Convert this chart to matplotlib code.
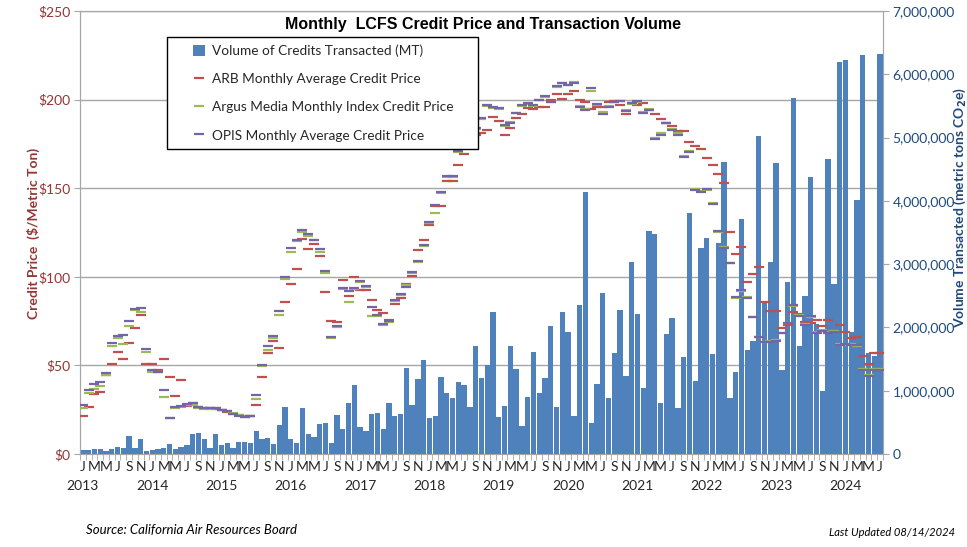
import numpy as np
import matplotlib
matplotlib.use("Agg")
import matplotlib.pyplot as plt
from matplotlib.patches import Patch, Rectangle
from matplotlib.lines import Line2D
from matplotlib.ticker import FuncFormatter, FixedLocator

# Month labels shown under the axis (every other month) and year captions
month_letters = ["J", "M", "M", "J", "S", "N"]
years = [2013, 2014, 2015, 2016, 2017, 2018, 2019, 2020, 2021, 2022, 2023, 2024]

# Volume of credits transacted, millions of MT, Jan 2013 .. Jul 2024
volume_m = [
    0.063, 0.07, 0.085, 0.075, 0.05, 0.08, 0.11, 0.10, 0.28, 0.10, 0.24, 0.04,
    0.07, 0.08, 0.10, 0.16, 0.08, 0.11, 0.14, 0.32, 0.33, 0.24, 0.10, 0.32,
    0.15, 0.18, 0.10, 0.19, 0.19, 0.18, 0.36, 0.23, 0.25, 0.16, 0.46, 0.75,
    0.24, 0.17, 0.72, 0.31, 0.27, 0.47, 0.49, 0.17, 0.62, 0.39, 0.81, 1.09,
    0.42, 0.36, 0.63, 0.65, 0.39, 0.80, 0.60, 0.63, 1.36, 0.78, 1.18, 1.49,
    0.57, 0.60, 1.22, 0.96, 0.88, 1.13, 1.09, 0.75, 1.71, 1.20, 1.40, 2.24,
    0.58, 0.76, 1.70, 1.34, 0.44, 0.90, 1.61, 0.96, 1.20, 2.03, 0.74, 2.25,
    1.93, 0.60, 2.35, 4.14, 0.49, 1.10, 2.54, 0.89, 1.59, 2.27, 1.24, 3.03,
    2.21, 1.04, 3.52, 3.47, 0.81, 1.90, 2.15, 0.73, 1.54, 3.81, 1.15, 3.25,
    3.42, 1.58, 3.33, 4.62, 0.89, 1.29, 3.71, 1.64, 1.78, 5.03, 2.40, 3.03,
    4.59, 1.32, 2.72, 5.63, 1.71, 2.50, 4.38, 2.05, 1.00, 4.66, 2.69, 6.19,
    6.22, 1.93, 4.02, 6.30, 1.60, 1.55, 6.32,
]

# Monthly credit prices ($/MT)
arb_price = [
    21.4, 26.6, 33.8, 34.8, 44.6, 51.0, 57.8, 53.8, 62.8, 70.9, 78.5, 50.8,
    51.0, 47.4, 53.8, 43.6, 32.6, 41.6, 27.2, 28.6, 26.5, 25.8, 25.8, 25.6,
    24.6, 23.6, 22.4, 21.8, 21.1, 21.2, 27.5, 43.6, 56.8, 63.6, 60.0, 85.8,
    95.7, 104.6, 121.5, 115.7, 118.5, 111.7, 91.6, 75.0, 74.7, 98.2, 89.2, 100.0,
    92.6, 92.6, 87.0, 81.3, 79.8, 75.6, 84.6, 88.0, 95.9, 100.6, 115.0, 121.0,
    129.0, 140.0, 140.0, 154.0, 154.0, 163.0, 169.0, 178.7, 180.0, 181.0, 183.0, 190.0,
    188.0, 180.0, 184.0, 189.6, 191.9, 195.0, 194.7, 195.6, 196.0, 200.0, 203.3, 200.5,
    203.3, 205.0, 200.0, 198.6, 194.7, 195.6, 196.0, 198.8, 199.4, 197.0, 191.9, 197.9,
    197.0, 197.9, 194.0, 191.9, 189.0, 187.0, 185.0, 182.5, 182.0, 176.0, 174.0, 172.0,
    167.0, 163.0, 158.0, 152.7, 125.0, 112.7, 117.0, 96.9, 101.6, 105.7, 85.6, 80.7,
    80.7, 71.0, 72.8, 80.3, 79.0, 74.7, 74.0, 75.6, 72.2, 75.6, 69.4, 72.8,
    69.0, 65.7, 66.2, 55.3, 50.6, 56.8, 56.8,
]

argus_price = [
    26.1, 34.6, 36.9, 38.5, 44.8, 61.0, 65.7, 62.1, 72.2, 81.3, 80.3, 57.4,
    46.3, 46.0, 32.4, 20.5, 26.0, 26.8, 27.6, 27.8, 26.0, 25.6, 25.6, 25.7,
    25.0, 24.5, 23.4, 22.0, 21.4, 21.6, 30.8, 49.7, 58.7, 65.3, 78.6, 98.6,
    114.2, 120.0, 125.0, 123.2, 120.5, 114.2, 101.9, 65.3, 71.5, 93.0, 85.6, 93.0,
    97.3, 94.5, 77.9, 78.0, 72.8, 74.4, 86.4, 89.8, 95.2, 102.4, 108.5, 117.5,
    130.2, 135.8, 147.5, 156.5, 156.5, 170.5, 174.5, 185.0, 183.3, 188.8, 196.5, 195.5,
    194.7, 185.2, 187.4, 192.2, 196.4, 197.6, 196.6, 199.6, 201.5, 198.9, 207.0, 209.3,
    208.0, 209.8, 196.5, 194.5, 205.0, 197.0, 193.0, 196.3, 198.5, 199.0, 194.0, 197.5,
    198.5, 192.8, 194.5, 178.5, 181.0, 186.5, 183.5, 181.0, 168.0, 171.0, 149.5, 148.5,
    149.0, 141.5, 125.0, 117.0, 108.0, 88.0, 92.0, 88.5, 77.5, 66.2, 63.0, 63.6,
    64.2, 68.0, 74.2, 83.5, 78.5, 73.3, 77.5, 69.0, 69.9, 68.8, 69.4, 62.0,
    61.5, 61.9, 61.2, 47.8, 44.6, 47.8, 47.8,
]

opis_price = [
    27.7, 36.1, 39.5, 40.8, 45.9, 62.5, 66.8, 67.2, 75.2, 82.0, 82.6, 59.0,
    47.2, 46.5, 36.1, 20.1, 26.5, 27.0, 28.2, 28.8, 26.3, 25.8, 25.8, 25.9,
    24.9, 24.2, 22.5, 21.6, 21.1, 21.3, 33.3, 50.2, 61.0, 66.6, 80.5, 99.7,
    116.0, 120.8, 126.4, 124.0, 120.8, 115.5, 103.5, 66.2, 72.0, 93.5, 92.0, 93.5,
    97.8, 95.0, 83.0, 78.4, 73.2, 74.9, 86.9, 90.3, 94.0, 102.9, 109.0, 118.0,
    130.7, 140.5, 148.0, 157.0, 157.0, 171.0, 175.0, 185.7, 183.8, 189.4, 197.0, 196.0,
    195.0, 185.6, 187.0, 192.6, 196.8, 198.0, 197.0, 200.0, 201.9, 198.4, 207.4, 209.6,
    208.4, 209.5, 195.8, 194.0, 206.6, 197.5, 191.7, 196.0, 198.8, 199.2, 193.6, 198.0,
    199.0, 192.2, 194.0, 178.0, 180.0, 187.0, 183.0, 180.0, 167.8, 170.5, 149.0, 148.0,
    149.4, 141.0, 125.8, 116.4, 107.6, 88.4, 92.5, 87.8, 77.1, 65.8, 63.4, 63.2,
    63.8, 68.5, 73.7, 84.0, 77.9, 72.8, 77.9, 68.5, 69.4, 68.5, 69.0, 61.5,
    61.9, 61.5, 61.5, 47.4, 44.2, 47.4, 47.4,
]

BAR_BLUE = "#4F81BD"
ARB_RED = "#C0504D"
ARGUS_GREEN = "#9BBB59"
OPIS_PURPLE = "#7464A8"
PRICE_COLOR = "#943634"
VOLUME_COLOR = "#1F497D"
GRID_GRAY = "#A6A6A6"
TEXT_DARK = "#262626"
FONT = "Lato"

plt.rcParams["font.family"] = [FONT, "DejaVu Sans"]

n_months = len(volume_m)
x = np.arange(n_months)
volume = np.array(volume_m) * 1e6

fig = plt.figure(figsize=(9.67, 5.47), dpi=100)
ax = fig.add_axes([0.0827, 0.170, 0.8304, 0.810])
ax_vol = ax.twinx()
ax_px = ax.twinx()

# Price axis (left) carries the grid
ax.set_xlim(-0.5, n_months - 0.5)
ax.set_ylim(0, 250)
ax.set_yticks(np.arange(0, 251, 50))
ax.yaxis.set_major_formatter(FuncFormatter(lambda v, _: f"${v:.0f}"))
ax.grid(axis="y", color=GRID_GRAY, linewidth=1.0)
ax.set_axisbelow(True)
ax.tick_params(axis="y", colors=GRID_GRAY, labelcolor=PRICE_COLOR,
               labelsize=10, length=4, pad=3)

# Month letters on every other month, small ticks between months
label_pos = [i for i in x if i % 2 == 0]
ax.xaxis.set_major_locator(FixedLocator(label_pos))
ax.set_xticklabels([month_letters[(i % 12) // 2] for i in label_pos])
ax.xaxis.set_minor_locator(FixedLocator(np.arange(-0.5, n_months, 1.0)))
ax.tick_params(axis="x", which="major", length=0, pad=5,
               labelsize=10, labelcolor=TEXT_DARK)
ax.tick_params(axis="x", which="minor", length=4, color=GRID_GRAY)
for k, yr in enumerate(years):
    ax.text(12 * k, -0.072, str(yr), transform=ax.get_xaxis_transform(),
            ha="center", va="center", fontsize=10, color=TEXT_DARK)

for side in ["left", "right", "top", "bottom"]:
    ax.spines[side].set_color(GRID_GRAY)

# Volume bars (right axis)
ax_vol.bar(x, volume, width=0.92, color=BAR_BLUE, linewidth=0)
ax_vol.set_ylim(0, 7e6)
ax_vol.set_yticks(np.arange(0, 7e6 + 1, 1e6))
ax_vol.yaxis.set_major_formatter(FuncFormatter(lambda v, _: f"{v:,.0f}"))
ax_vol.tick_params(axis="y", colors=GRID_GRAY, labelcolor=VOLUME_COLOR,
                   labelsize=10, length=4, pad=3)
for side in ["left", "right", "top", "bottom"]:
    ax_vol.spines[side].set_color(GRID_GRAY)

# Price dashes drawn on top of the bars
ax_px.set_ylim(0, 250)
ax_px.yaxis.set_visible(False)
for side in ["left", "right", "top", "bottom"]:
    ax_px.spines[side].set_visible(False)
dash = dict(linestyle="none", marker="_", markersize=7, markeredgewidth=1.6)
ax_px.plot(x, arb_price, color=ARB_RED, **dash)
ax_px.plot(x, argus_price, color=ARGUS_GREEN, **dash)
ax_px.plot(x, opis_price, color=OPIS_PURPLE, **dash)

# Legend: boxed area with frameless legend inside
fig.add_artist(Rectangle((0.1727, 0.7276), 0.3216, 0.2048,
                         transform=fig.transFigure, facecolor="white",
                         edgecolor="black", linewidth=1.0, zorder=4))
handles = [
    Patch(facecolor=BAR_BLUE, edgecolor="none"),
    Line2D([], [], color=ARB_RED, **dash),
    Line2D([], [], color=ARGUS_GREEN, **dash),
    Line2D([], [], color=OPIS_PURPLE, **dash),
]
labels = [
    "Volume of Credits Transacted (MT)",
    "ARB Monthly Average Credit Price",
    "Argus Media Monthly Index Credit Price",
    "OPIS Monthly Average Credit Price",
]
fig.legend(handles, labels, loc="upper left",
           bbox_to_anchor=(0.1996, 0.9186), frameon=False, fontsize=9.8,
           borderpad=0, borderaxespad=0, labelspacing=1.15,
           handlelength=0.88, handleheight=0.95, handletextpad=0.5,
           labelcolor=TEXT_DARK)

# Titles and axis captions
fig.text(0.4995, 0.956, "Monthly  LCFS Credit Price and Transaction Volume",
         ha="center", va="center", fontsize=11.5, fontweight="bold",
         family="Liberation Sans", color="black")
fig.text(0.035, 0.574, "Credit Price  ($/Metric Ton)", rotation=90,
         ha="center", va="center", fontsize=10, fontweight="bold",
         color=PRICE_COLOR)
fig.text(0.9925, 0.621, r"Volume Transacted (metric tons CO$_\mathbf{2}$e)",
         rotation=90, ha="center", va="center", fontsize=10,
         fontweight="bold", color=VOLUME_COLOR)

fig.text(0.089, 0.031, "Source: California Air Resources Board",
         ha="left", va="center", fontsize=9.5, style="italic", color="black")
fig.text(0.988, 0.026, "Last Updated 08/14/2024", ha="right", va="center",
         fontsize=8, style="italic", color="black")

fig.savefig("out.png", dpi=100)
